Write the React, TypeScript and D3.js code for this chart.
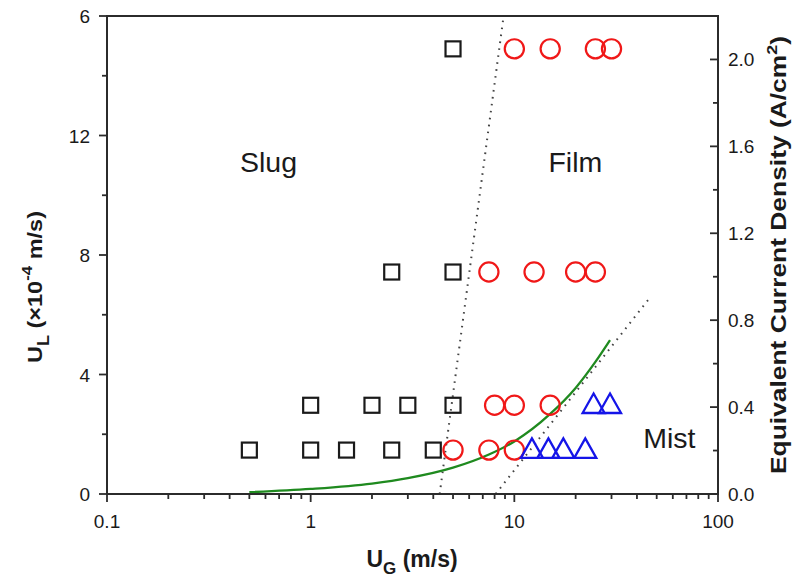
import * as d3 from "d3";
import { useEffect, useRef } from "react";

const W = 799;
const H = 583;
const PLOT = { left: 107, right: 718, top: 16, bottom: 494 };
const FONT = "'Liberation Sans', Arial, Helvetica, sans-serif";

// Slug (squares)
const slugUG = [5, 2.5, 5, 1, 2, 3, 5, 0.5, 1, 1.5, 2.5, 4];
const slugUL = [14.9, 7.43, 7.43, 2.97, 2.97, 2.97, 2.97, 1.47, 1.47, 1.47, 1.47, 1.47];

// Film (circles)
const filmUG = [10, 15, 25, 30, 7.5, 12.5, 20, 25, 8, 10, 15, 5, 7.5, 10];
const filmUL = [14.9, 14.9, 14.9, 14.9, 7.43, 7.43, 7.43, 7.43, 2.97, 2.97, 2.97, 1.47, 1.47, 1.47];

// Mist (triangles)
const mistUG = [24.5, 29.5, 12.2, 14.7, 17.4, 22.3];
const mistUL = [2.97, 2.97, 1.47, 1.47, 1.47, 1.47];

// green transition curve
const curveUG = [0.5, 1, 2, 3, 5, 7.5, 10, 15, 20, 25, 29.5];
const curveUL = [0.06, 0.17, 0.35, 0.53, 0.88, 1.32, 1.76, 2.68, 3.55, 4.42, 5.15];

// dotted boundaries
const slugFilmUG = [4.3, 8.8];
const slugFilmUL = [0, 15.85];
const filmMistUG = [8.1, 45.4];
const filmMistUL = [0, 6.5];

const xTicks = [0.1, 1, 10, 100];
const xTickLabels = ["0.1", "1", "10", "100"];
const yLeftTicks = [0, 4, 8, 12, 16];
const yLeftLabels = ["0", "4", "8", "12", "6"];
const yRightTicks = [0, 0.4, 0.8, 1.2, 1.6, 2.0];
const yRightLabels = ["0.0", "0.4", "0.8", "1.2", "1.6", "2.0"];

const regionLabels = [
	{ text: "Slug", ug: 0.45, ul: 10.78 },
	{ text: "Film", ug: 14.7, ul: 10.78 },
	{ text: "Mist", ug: 42.9, ul: 1.53 },
];

export default function App() {
	const svgRef = useRef<SVGSVGElement>(null);

	useEffect(() => {
		const svg = svgRef.current;
		if (!svg) return;
		const root = d3.select(svg);
		root.selectAll("*").remove();

		const x = d3.scaleLog().domain([0.1, 100]).range([PLOT.left, PLOT.right]);
		const yL = d3.scaleLinear().domain([0, 16]).range([PLOT.bottom, PLOT.top]);
		const yR = d3.scaleLinear().domain([0, 2.2]).range([PLOT.bottom, PLOT.top]);

		const axisColor = "#2b2b2b";

		// dotted boundary lines
		const drawDotted = (ugs: number[], uls: number[]) => {
			const pts = ugs.map((u, i) => [x(u), yL(uls[i])] as [number, number]);
			root.append("path")
				.attr("d", d3.line()(pts))
				.attr("fill", "none")
				.attr("stroke", "#444")
				.attr("stroke-width", 2)
				.attr("stroke-dasharray", "1.6,5.4");
		};
		drawDotted(slugFilmUG, slugFilmUL);
		drawDotted(filmMistUG, filmMistUL);

		// green curve
		const curvePts = curveUG.map((u, i) => ({ u, v: curveUL[i] }));
		const curveGen = d3
			.line<{ u: number; v: number }>()
			.x((d) => x(d.u))
			.y((d) => yL(d.v))
			.curve(d3.curveMonotoneX);
		root.append("path")
			.datum(curvePts)
			.attr("d", curveGen)
			.attr("fill", "none")
			.attr("stroke", "#1f8a1f")
			.attr("stroke-width", 2.3);

		// squares
		const sq = 15;
		slugUG.forEach((u, i) => {
			root.append("rect")
				.attr("x", x(u) - sq / 2)
				.attr("y", yL(slugUL[i]) - sq / 2)
				.attr("width", sq)
				.attr("height", sq)
				.attr("fill", "none")
				.attr("stroke", "#1a1a1a")
				.attr("stroke-width", 2.2);
		});

		// circles
		filmUG.forEach((u, i) => {
			root.append("circle")
				.attr("cx", x(u))
				.attr("cy", yL(filmUL[i]))
				.attr("r", 9.6)
				.attr("fill", "none")
				.attr("stroke", "#f01818")
				.attr("stroke-width", 2.2);
		});

		// triangles
		const tw = 22;
		const th = 19.5;
		mistUG.forEach((u, i) => {
			const cx = x(u);
			const cy = yL(mistUL[i]) - 2;
			root.append("path")
				.attr(
					"d",
					`M${cx},${cy - th / 2}L${cx + tw / 2},${cy + th / 2}L${cx - tw / 2},${cy + th / 2}Z`,
				)
				.attr("fill", "none")
				.attr("stroke", "#1515e8")
				.attr("stroke-width", 2.3);
		});

		// frame
		root.append("rect")
			.attr("x", PLOT.left)
			.attr("y", PLOT.top)
			.attr("width", PLOT.right - PLOT.left)
			.attr("height", PLOT.bottom - PLOT.top)
			.attr("fill", "none")
			.attr("stroke", axisColor)
			.attr("stroke-width", 2);

		const ticks = root.append("g").attr("stroke", axisColor).attr("stroke-width", 1.8);

		// x ticks (outward, below)
		const xMinor: number[] = [];
		[0.1, 1, 10].forEach((dec) => {
			for (let k = 2; k <= 9; k++) xMinor.push(dec * k);
		});
		xTicks.forEach((t) => {
			ticks.append("line").attr("x1", x(t)).attr("x2", x(t)).attr("y1", PLOT.bottom).attr("y2", PLOT.bottom + 8);
		});
		xMinor.forEach((t) => {
			ticks.append("line").attr("x1", x(t)).attr("x2", x(t)).attr("y1", PLOT.bottom).attr("y2", PLOT.bottom + 5);
		});

		// left ticks (outward)
		yLeftTicks.forEach((t) => {
			ticks.append("line").attr("x1", PLOT.left - 8).attr("x2", PLOT.left).attr("y1", yL(t)).attr("y2", yL(t));
		});
		d3.range(2, 16, 4).forEach((t) => {
			ticks.append("line").attr("x1", PLOT.left - 5).attr("x2", PLOT.left).attr("y1", yL(t)).attr("y2", yL(t));
		});

		// right ticks (inward)
		yRightTicks.forEach((t) => {
			ticks.append("line").attr("x1", PLOT.right - 8).attr("x2", PLOT.right).attr("y1", yR(t)).attr("y2", yR(t));
		});
		d3.range(0.2, 2.1, 0.4).forEach((t) => {
			ticks.append("line").attr("x1", PLOT.right - 5).attr("x2", PLOT.right).attr("y1", yR(t)).attr("y2", yR(t));
		});

		const txt = root.append("g").attr("font-family", FONT).attr("fill", "#1a1a1a");

		xTicks.forEach((t, i) => {
			txt.append("text")
				.attr("x", x(t))
				.attr("y", 528)
				.attr("text-anchor", "middle")
				.attr("font-size", 19)
				.text(xTickLabels[i]);
		});
		yLeftTicks.forEach((t, i) => {
			txt.append("text")
				.attr("x", 90)
				.attr("y", yL(t) + 7)
				.attr("text-anchor", "end")
				.attr("font-size", 19)
				.text(yLeftLabels[i]);
		});
		yRightTicks.forEach((t, i) => {
			txt.append("text")
				.attr("x", 728)
				.attr("y", yR(t) + 7)
				.attr("text-anchor", "start")
				.attr("font-size", 19)
				.text(yRightLabels[i]);
		});

		regionLabels.forEach((r) => {
			txt.append("text")
				.attr("x", x(r.ug))
				.attr("y", yL(r.ul))
				.attr("font-size", 28.5)
				.text(r.text);
		});

		// x title
		const xt = txt.append("text")
			.attr("x", 412)
			.attr("y", 567)
			.attr("text-anchor", "middle")
			.attr("font-size", 23)
			.attr("font-weight", "bold");
		xt.append("tspan").text("U");
		xt.append("tspan").attr("font-size", 17).attr("dy", 7).text("G");
		xt.append("tspan").attr("dy", -7).text(" (m/s)");

		// left title
		const lt = txt.append("text")
			.attr("transform", "translate(42,287) rotate(-90) scale(1.12,1)")
			.attr("text-anchor", "middle")
			.attr("font-size", 21)
			.attr("font-weight", "bold");
		lt.append("tspan").text("U");
		lt.append("tspan").attr("font-size", 16).attr("dy", 7).text("L");
		lt.append("tspan").attr("dy", -7).text(" (\u00d710");
		lt.append("tspan").attr("font-size", 15).attr("dy", -10).text("-4");
		lt.append("tspan").attr("dy", 10).text("  m/s)");

		// right title
		const rt = txt.append("text")
			.attr("transform", "translate(786,255) rotate(-90) scale(1.2,1)")
			.attr("text-anchor", "middle")
			.attr("font-size", 22)
			.attr("font-weight", "bold");
		rt.append("tspan").text("Equivalent Current Density (A/cm");
		rt.append("tspan").attr("font-size", 15).attr("dy", -9).text("2");
		rt.append("tspan").attr("dy", 9).text(")");
	}, []);

	return (
		<>
			<style>{`body{margin:0;background:#fff}`}</style>
			<svg ref={svgRef} width={W} height={H} viewBox={`0 0 ${W} ${H}`} style={{ display: "block" }} />
		</>
	);
}
